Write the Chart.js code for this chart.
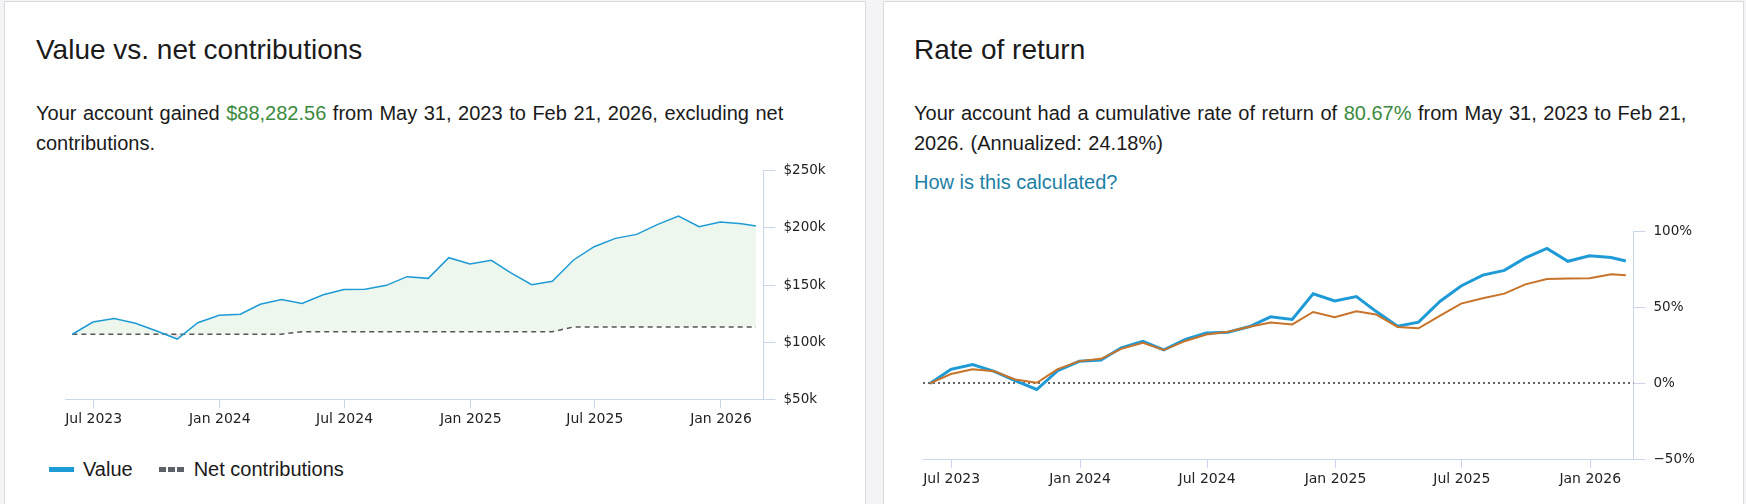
<!DOCTYPE html>
<html>
<head>
<meta charset="utf-8">
<script src="https://cdn.jsdelivr.net/npm/chart.js@4.4.1/dist/chart.umd.min.js"></script>
<style>
  html, body { margin: 0; padding: 0; }
  body { width: 1746px; height: 504px; overflow: hidden; position: relative; background: #f4f4f6;
         font-family: "Liberation Sans", Arial, sans-serif; color: #1a1a1a; }
  .panel { position: absolute; top: 1px; height: 540px; background: #fff; border: 1px solid #d9d9de; box-sizing: border-box; }
  #p1 { left: 4px; width: 862px; }
  #p2 { left: 883px; width: 861px; }
  h2 { position: absolute; margin: 0; font-weight: normal; font-size: 28px; line-height: 32px; top: 34px; }
  .txt { position: absolute; margin: 0; font-size: 20px; line-height: 30px; top: 98px; word-spacing: 1px; }
  .up { color: #3b8a3e; }
  .link { position: absolute; left: 914px; top: 167px; font-size: 20px; line-height: 30px; color: #1c7fa6; }
  canvas { position: absolute; }
  .legend { position: absolute; left: 49px; top: 459px; height: 20px; display: flex; align-items: center; font-size: 20px; }
  .sw { width: 25px; height: 5px; margin-right: 9px; }
  .sw.value { background: #1e9bd7; }
  .sw.net { background: repeating-linear-gradient(90deg, #5c6168 0 7px, transparent 7px 9px); margin-left: 26px; margin-right: 10px; }
</style>
</head>
<body>
<div class="panel" id="p1"></div>
<div class="panel" id="p2"></div>

<h2 style="left:36px">Value vs. net contributions</h2>
<p class="txt" style="left:36px;width:800px">Your account gained <span class="up">$88,282.56</span> from May 31, 2023 to Feb 21, 2026, excluding net contributions.</p>

<h2 style="left:914px">Rate of return</h2>
<p class="txt" style="left:914px;width:797px">Your account had a cumulative rate of return of <span class="up">80.67%</span> from May 31, 2023 to Feb 21, 2026. (Annualized: 24.18%)</p>
<div class="link">How is this calculated?</div>

<canvas id="valueChart" width="800" height="290" style="left:50px;top:150px"></canvas>
<div class="legend"><span class="sw value"></span>Value<span class="sw net"></span>Net contributions</div>

<canvas id="returnChart" width="840" height="299" style="left:900px;top:205px"></canvas>

<script>
/* Data */
const dates = [
  '2023-05-31', '2023-06-30', '2023-07-31', '2023-08-31', '2023-09-30', '2023-10-31',
  '2023-11-30', '2023-12-31', '2024-01-31', '2024-02-29', '2024-03-31', '2024-04-30',
  '2024-05-31', '2024-06-30', '2024-07-31', '2024-08-31', '2024-09-30', '2024-10-31',
  '2024-11-30', '2024-12-31', '2025-01-31', '2025-02-28', '2025-03-31', '2025-04-30',
  '2025-05-31', '2025-06-30', '2025-07-31', '2025-08-31', '2025-09-30', '2025-10-31',
  '2025-11-30', '2025-12-31', '2026-01-31', '2026-02-21'
];
const accountValue = [
  106900, 117600, 120600, 116600, 110000, 102700, 117000, 123500, 124400, 133100,
  137300, 133900, 141500, 146000, 146200, 149700, 157300, 155800, 173900, 168400,
  171600, 160800, 150300, 153200, 171900, 183500, 190800, 194300, 202800, 210300,
  201000, 205100, 203600, 201600
];
const netContributions = [
  107000, 107000, 107000, 107000, 107000, 107000, 107000, 107000, 107000, 107000,
  107000, 109100, 109100, 109100, 109100, 109100, 109100, 109100, 109100, 109100,
  109100, 109100, 109100, 109100, 113300, 113300, 113300, 113300, 113300, 113300,
  113300, 113300, 113300, 113300
];
const accountReturn = [
  0, 9.3, 12.4, 8.0, 1.8, -4.0, 8.4, 14.6, 15.5, 23.5,
  27.7, 22.1, 29.0, 33.2, 33.8, 37.5, 43.9, 42.2, 59.1, 54.3,
  57.2, 47.5, 37.7, 40.4, 54.2, 64.2, 71.4, 74.5, 82.7, 89.0,
  80.5, 84.1, 83.0, 80.67
];
const benchmarkReturn = [
  0, 6.2, 9.3, 8.0, 2.6, 0.4, 9.4, 14.7, 16.2, 22.8,
  26.8, 22.0, 28.0, 32.3, 34.0, 37.3, 40.2, 38.9, 47.1, 43.6,
  47.5, 45.5, 37.2, 36.3, 44.7, 52.6, 56.2, 59.2, 65.3, 68.8,
  69.2, 69.3, 71.9, 71.3
];
const tickDates = ['2023-07-01', '2024-01-01', '2024-07-01', '2025-01-01', '2025-07-01', '2026-01-01'];
const tickLabels = ['Jul 2023', 'Jan 2024', 'Jul 2024', 'Jan 2025', 'Jul 2025', 'Jan 2026'];
const zeroReturn = 0;

/* Colors */
const AXIS = '#ccd6eb';
const BLUE = '#1e9bd7';
const ORANGE = '#c8732a';

Chart.defaults.font.family = '"DejaVu Sans", sans-serif';
Chart.defaults.color = '#222';

/* Utils */
const dayNum = (s) => Date.parse(s + 'T00:00:00Z') / 86400000;
const points = (vals) => vals.map((v, i) => ({ x: dayNum(dates[i]), y: v }));

function timeAxis(height) {
  return {
    type: 'linear',
    min: dayNum(dates[0]) - 10,
    max: dayNum(dates[dates.length - 1]) + 11,
    afterBuildTicks: (s) => { s.ticks = tickDates.map(d => ({ value: dayNum(d) })); },
    afterFit: (s) => { s.height = height; },
    ticks: { autoSkip: false, maxRotation: 0, padding: 3, font: { size: 14 }, callback: (v, i) => tickLabels[i] },
    grid: { drawOnChartArea: false, tickLength: 9, tickColor: AXIS, color: AXIS },
    border: { color: AXIS }
  };
}

function sideAxis(width, min, max, step, fmt) {
  return {
    type: 'linear',
    position: 'right',
    min, max,
    afterFit: (s) => { s.width = width; },
    ticks: { stepSize: step, padding: 8, font: { size: 13.5 }, callback: fmt },
    grid: { drawOnChartArea: false, tickLength: 12, tickColor: AXIS, color: AXIS },
    border: { color: AXIS }
  };
}

/* Value vs. net contributions */
new Chart(document.getElementById('valueChart'), {
  type: 'line',
  data: {
    datasets: [
      { label: 'Value', data: points(accountValue), borderColor: BLUE, borderWidth: 1.5, pointRadius: 0,
        fill: { target: 1, above: 'rgba(76,175,80,0.1)', below: 'rgba(229,57,53,0.12)' } },
      { label: 'Net contributions', data: points(netContributions), borderColor: '#555', borderWidth: 1.5,
        borderDash: [5, 4], pointRadius: 0, fill: false }
    ]
  },
  options: {
    responsive: false, animation: false,
    layout: { padding: { left: 15.5, top: 20.7, right: 0, bottom: 0 } },
    plugins: { legend: { display: false }, tooltip: { enabled: false }, filler: { drawTime: 'beforeDatasetsDraw' } },
    scales: {
      x: timeAxis(40.7),
      y: sideAxis(86.5, 50000, 250000, 50000, v => '$' + (v / 1000) + 'k')
    }
  }
});

/* Rate of return */
const zeroLine = {
  id: 'zeroLine',
  beforeDatasetsDraw(chart) {
    const { ctx, chartArea, scales } = chart;
    const y = Math.round(scales.y.getPixelForValue(zeroReturn));
    ctx.save();
    ctx.strokeStyle = '#666';
    ctx.lineWidth = 2;
    ctx.setLineDash([2, 3]);
    ctx.beginPath();
    ctx.moveTo(chartArea.left, y);
    ctx.lineTo(chartArea.right, y);
    ctx.stroke();
    ctx.restore();
  }
};

new Chart(document.getElementById('returnChart'), {
  type: 'line',
  data: {
    datasets: [
      { label: 'Account', data: points(accountReturn), borderColor: BLUE, borderWidth: 3, pointRadius: 0, order: 2 },
      { label: 'Benchmark', data: points(benchmarkReturn), borderColor: ORANGE, borderWidth: 2, pointRadius: 0, order: 1 }
    ]
  },
  options: {
    responsive: false, animation: false,
    layout: { padding: { left: 23, top: 26.7, right: 0, bottom: 0 } },
    plugins: { legend: { display: false }, tooltip: { enabled: false } },
    scales: {
      x: timeAxis(44.7),
      y: sideAxis(106.5, -50, 100, 50, v => (v < 0 ? '\u2212' + (-v) : v) + '%')
    }
  },
  plugins: [zeroLine]
});
</script>
</body>
</html>
